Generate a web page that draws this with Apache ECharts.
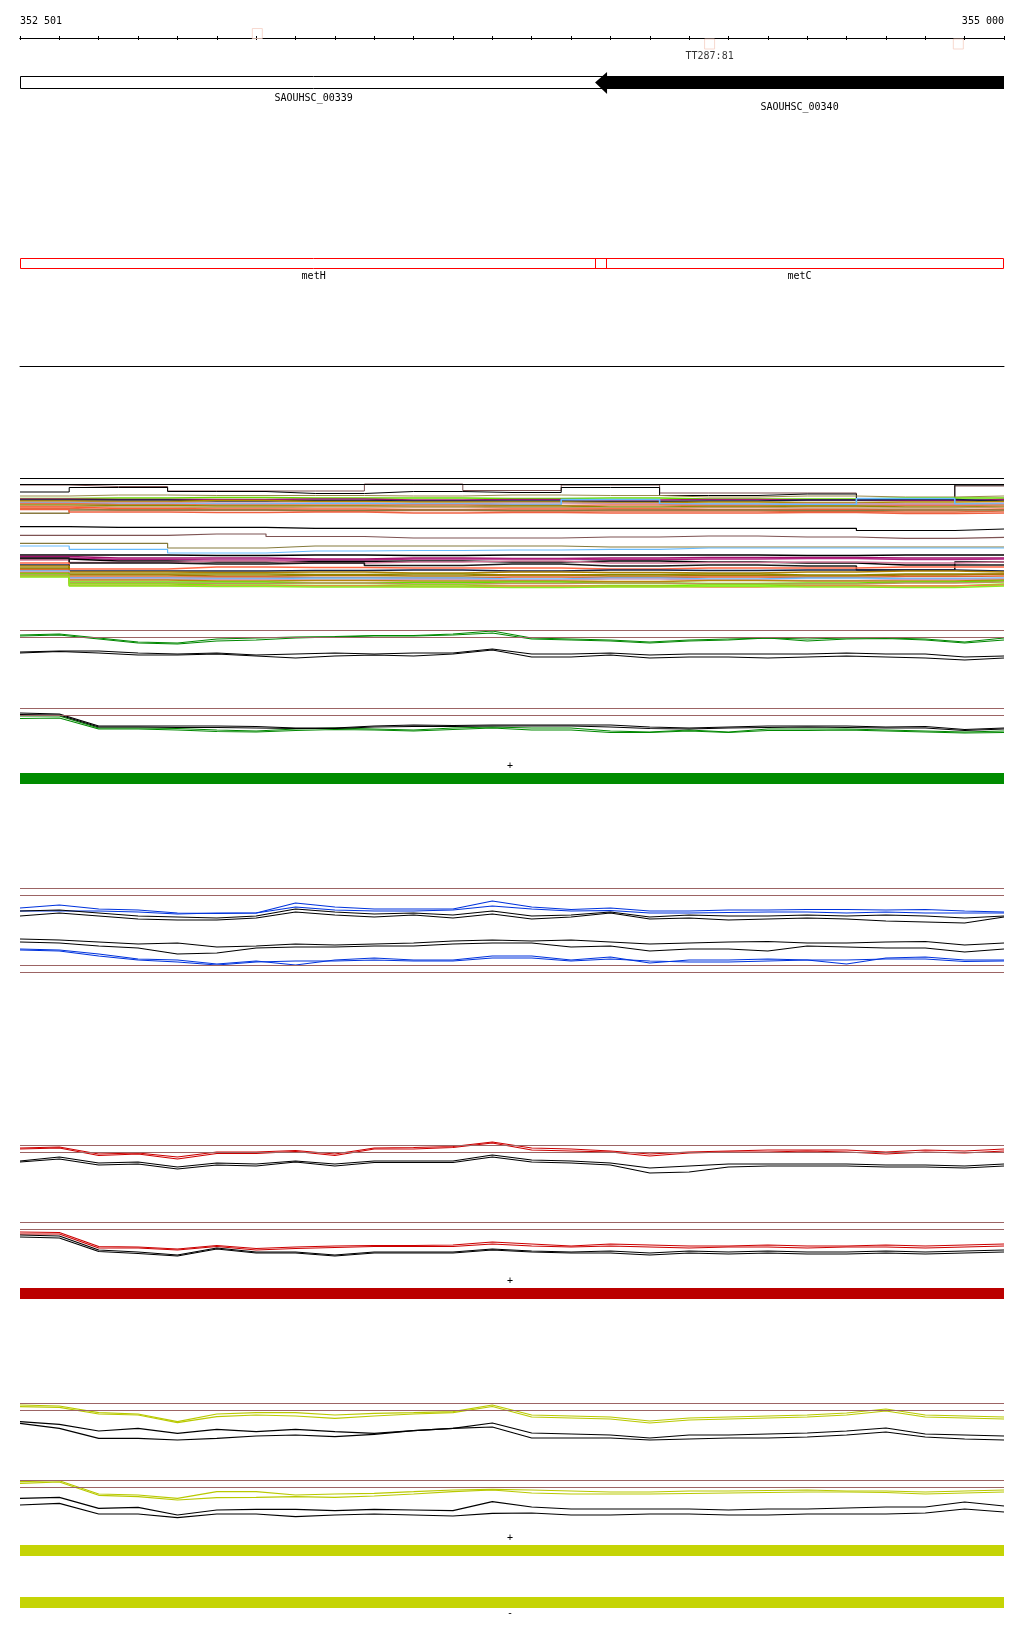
<!DOCTYPE html>
<html><head><meta charset="utf-8">
<script src="https://cdn.jsdelivr.net/npm/echarts@6/dist/echarts.min.js"></script>
<style>html,body{margin:0;padding:0;background:#fff}#c{width:1024px;height:1640px}</style>
</head><body><div id="c"></div>
<script>
// ---------- data ----------
const X_MIN = 352500, X_MAX = 355000;
const rulerLabels = ['352 501', '355 000'];
const xs = [352500,352600,352700,352800,352900,353000,353100,353200,353300,353400,353500,353600,353700,
            353800,353900,354000,354100,354200,354300,354400,354500,354600,354700,354800,354900,355000];
const xsDense = [352500,352750,353000,353250,353500,353750,354000,354250,354500,354750,355000];

const termPos = [353103, 354252, 354884];
const termStrand = ['+', '-', '-'];
const termLabels = ['', 'TT287:81', ''];

const geneNames = ['SAOUHSC_00339', 'SAOUHSC_00340'];
const geneStarts = [352500, 353961];
const geneEnds = [353992, 355000];
const geneStrand = [1, -1];

const regionNames = ['metH', 'metC'];
const regionStarts = [352500, 353961];
const regionEnds = [353992, 355000];

// dense panel (11 points)
const dW1 = [15,16.5,21,21,14,20.5,15,23,23,34,16];
const dW2 = [22,17.5,21.5,23.5,21.5,22.5,17.5,25.5,24,30,15];
const dW3 = [26,25,25.5,25.5,26,25,25.5,27,26,27,26];
const dU01 = [28.5,28,27.5,28,28,28.5,28,29,29,28,28];
const dU02 = [30,30,31,30.5,31,31,31.5,31,30,29.5,31];
const dU03 = [29,29.5,29.5,29,30,29.5,30,29.5,30,30.5,29.5];
const dU04 = [31,31.5,30.5,31.5,32,32,32.5,32,32.5,32,31.5];
const dU05 = [32.5,32.5,33,33,33.5,33,33.5,34,33.5,34,33];
const dU06 = [33,34,34,33.5,34,34.5,29.5,34,34.5,28.5,34];
const dU07 = [33.5,34.5,35,35,35,35.5,35,35.5,36,35.5,35];
const dU08 = [35,35.5,36,36,36.5,36,37,36.5,36,37,36.5];
const dU09 = [36,37,37.5,37,37,37.5,38,37.5,38,38,37];
const dU10 = [37,38.5,39,39,39.5,39,39,39.5,39.5,40,39];
const dU11 = [38.5,40,40,41,40.5,41,41,41,41.5,42,41];
const dU12 = [43.3,40,40,40.5,40,40.5,40,40,40.5,40,40];
const dU13 = [39.5,42,42.5,42,43,42.5,43,43,42.5,43.5,43];
const dM1 = [56.7,57.3,57.3,58.3,58.3,58.3,58.3,58.3,58.3,60.5,59];
const dM2 = [65.3,65.3,64,66.5,68,68,67,66,67,68.3,67.3];
const dM3 = [73.3,73.3,78,76,76,76,77,77,77,77,77];
const dM4 = [76,79.3,83,81,80.5,80,79.3,78,78,78,78];
const dL01 = [85,85,85.5,85,85.5,85,85,85,85.5,85,85];
const dL02 = [86.5,88,88,89,88,88.5,88,87.5,87.5,88,88];
const dL03 = [88,89.5,90,90,89,89,89.5,89,88.5,89.5,89];
const dL04 = [89,91,92,91.5,91,92,91,92,93,95,92];
const dL05 = [90,92.5,91,93,92,91,93,92.5,92,93,92];
const dL06 = [88,93,94,93,95.5,94,96,95,96,100,95];
const dL07 = [93,99,97,97.5,98,98,99,98,98,97,97];
const dL08 = [95,101,101,100.5,100,101,100,100.5,100,100,101];
const dL09 = [96,102,102.5,102,103,102,102.5,103,102,101,102];
const dL10 = [98,104,104,104.5,104,105,104.5,104,105,104,104];
const dL11 = [99,105,106,105.5,106,105,106,105.5,106,105,104];
const dL12 = [100,107,107,107.5,108,107,107.5,107,107.5,106.5,106];
const dL13 = [101,108,108.5,108,108,109,108,109,108,108.5,108];
const dL14 = [102,109,109.5,110,109.5,110,109,110,110.5,109.5,109];
const dL15 = [103,110,111,110.5,111,111,111.5,110.5,111,111,110];
const dL16 = [104,112,112,113,112.5,112,113,113.5,113,112,111];
const dL17 = [105,113,113.5,113,114,113.5,113,114,114,113,112];
const dL18 = [106,114,115,115.5,115,116,115.5,115,115.5,116,114];
const dL19 = [106.5,115.5,116,116,116.5,116,116.5,117,116,116,115];
const dL20 = [107,116,116.5,117,117,117.5,117,116.5,117,117.5,116];
const denseRefs = [8.3, 14.3];

// green panel
const gRef = [10.3, 17.3, 88.3, 95.7];
const gTopGreenA = [15,14,18,22,23,19,18,17,16.5,15.5,15.5,14,11,18,19,20,22,20,19,18,19,18,18,19,22,18];
const gTopGreenB = [16,15,19,23,24,21,20,18,17,16,16,15,13,19,20,21,23,21,20,18,21,19,18.5,20,23,20];
const gTopBlackA = [32,31,31,33,34,33,35,34,33,34,33,33,29,34,34,33,35,34,34,34,34,33,34,34,37,36];
const gTopBlackB = [33,31.5,33,35,35,34,36,38,36,35,36,34,30,37,37,35,38,37,37,38,37,36,37,38,40,38];
const gLowBlackA = [93,94,106,106,106,106,106.5,108,108,106,105,105.5,105,105,105,105,107,108,107,106,106,106,107,106.5,109.5,108];
const gLowBlackB = [94.5,95,107,107,107.5,107.5,108,108.5,108.5,107,106.5,106.5,106,106,106,107,108.5,109,108,107.5,107,107.5,108,108,110.5,109];
const gLowGreenA = [96,96,108,108,108.5,110,111,109,108,109,110,108,107,108,108,111,112,110,112,109,109,109,110,111,112,111];
const gLowGreenB = [98.5,98,109,109,110,111.5,112,110.5,109.5,110,111,109.5,108,110,110,112.5,112.5,111,112.5,110.5,110.5,110,111,112,113,112.5];

// blue panel
const bRef = [8.3, 15.3, 85.3, 92.3];
const bTopBlueA = [28,25,29,30,33,33.5,33,23,27,29,29,29,21,27,29.5,28,31,31,30,30,29.5,29.5,30,29.5,31,32];
const bTopBlueB = [31,31,31,32,34,33,33,27,30,31,31,30,26,29,31,30.5,33,33,32.5,32,32,33,32,33,33,33];
const bTopBlackA = [31,30,33,36,37,38,36,29,32,34,33,35,31,36,35,32,37,35,36,36,35,36,35,36,38,36];
const bTopBlackB = [36,33,36,39,40,40,38,32,35,37,35,38,34,39,37,33,39,38,40,39,38,39,41,42,43,37];
const bLowBlackA = [59,60,62,64,63,67,66,64,65,64,63,61,60,61,60,62,64,63,62,61.5,63,63,62,61.5,65,63];
const bLowBlackB = [62,63,66,68,74,73,68,67,67,66,66,64,63,63,67,66,71,69,69,71,66,67,68,68,72,69];
const bLowBlueA = [69,70,74,79,80,84,81,85,80,78,80,80,76,76,80,77,83,80,80,79,80,84,78,77,80,80];
const bLowBlueB = [70,71,76,80,82,85,82,81,81,80,81,81,78,78,81,79,81,82,82,81,80,80,79,79,81.5,81];

// red panel
const rRef = [15.3, 22.3, 92.3, 99.3];
const rTopRedA = [18,17,24,23,27,22,22,20.5,24,18,17.5,16.5,12,18,19,21,24,22,21,20,20,20,22,20,21,19];
const rTopRedB = [19,18,25.5,24,29,23.5,23.5,21.5,25.5,19,19,17.5,13,20,21,22,26,23,22,22,21,22,24,22,23,21];
const rTopBlackA = [31,27,33,32,37,33,34,31,34,31,31,31,25,30,31,33,38,36,34,34,34,34,35,35,36,34];
const rTopBlackB = [32,29,35,34,39,35,36,32,36,32.5,32.5,32.5,27,32,33,35,43,42,37,36,36,36,37,37,38,36];
const rLowRedA = [102,102.5,116.5,117,119,115.5,118.5,117,116,115.5,115.5,115,112,114,116,114,115,116,116,115,116,116,115,116,115,114];
const rLowRedB = [104,104,118,118,120,116.5,120,118.5,117.5,116.5,116.5,116.5,114,116,117,116,117,118,117,117,118,117,117,118,117,116];
const rLowBlackA = [105,106,120,122,125,118,122,122,125,122,122,122,119,121,122,121,123,121,122,121,122,122,121,122,121,120];
const rLowBlackB = [107,108,121.5,123.5,126,119,123,123,126,123,123,123,120,122,123,123,125,123,124,123,124,124,123,124,123,122];

// yellow panel
const yRef = [13.3, 20.3, 90.3, 97.3];
const yTopYellowA = [15,16,22.7,24,31.7,24,22.7,22.7,25,23.3,22.7,21.7,15,25,26,27,31,28,27,26,25,23,19,25,26,27];
const yTopYellowB = [16.7,17.3,24,25,32.7,26.7,25,26,28.3,26,24,22.7,16.5,27,28,29,33,30,29,28,27,25,21,27,28,29];
const yTopBlackA = [31.7,34.3,41,38.3,43.3,39.3,41.7,39.3,41.7,43.3,40.7,38.3,33,43,44,45,48,45,45,44,43,41,38,44,45,46];
const yTopBlackB = [33.3,38.3,48.3,48.3,50,48.3,46,45,46.7,44.3,40.7,38.3,37,48,48,48,50,49,48,48,47,45,42,47,49,50];
const yLowYellowA = [91.7,90.7,104,105,108.3,101.7,101.7,105,104,103.3,101.7,100,99.3,100,101,102,102,101,101,100.5,100,101,101,102,101,100];
const yLowYellowB = [93.3,92,105.3,106.7,110,107.7,107.3,106.7,107.3,106,104,101.7,100,103,104,104,104,103.5,103,102.5,102,102,102.5,104,103,102];
const yLowBlackA = [108.3,107.3,118.3,117.3,125,120,119.3,119.3,120.7,119.3,120,120.7,111.7,117,119,119,119,119,120,119,119,118,117,117,112,116];
const yLowBlackB = [115,113.3,124,124,127.7,124,124,126.7,125,124,125,126,123.3,123,125,125,124,124,125,125,124,124,124,123,119,122];

// strand tracks
const strandStart = X_MIN, strandEnd = X_MAX;

// ---------- styles / layout ----------
const FONT = '10px "DejaVu Sans Mono"';
const BROWN = '#9c6464';
const GREEN = '#008800', BLUE = '#0033dd', RED = '#cc0000', YEL = '#b9c900';
const BAR_GREEN = '#008c00', BAR_RED = '#bb0000', BAR_YEL = '#c5d405';
const PW = 1.2;

const gridDefs = [
  {top:28, height:20},    //0 ruler
  {top:76, height:13},    //1 genes
  {top:258, height:11},   //2 regions
  {top:300, height:66},   //3 separator
  {top:470, height:125},  //4 dense
  {top:620, height:125},  //5 green
  {top:773, height:11},   //6 green strand
  {top:880, height:100},  //7 blue
  {top:1130, height:135}, //8 red
  {top:1288, height:11},  //9 red strand
  {top:1390, height:135}, //10 yellow
  {top:1545, height:11},  //11 yellow + strand
  {top:1597, height:11},  //12 yellow - strand
  {top:28, height:20}     //13 ruler (upward ticks)
];
const grids = gridDefs.map(g => Object.assign({left:20, width:984, show:false, containLabel:false, outerBoundsMode:'none'}, g));
const yRanges = [[-1,1],[0,1],[0,1],[0,1],[0,125,true],[0,125,true],[0,1],[0,100,true],[0,135,true],[0,1],[0,135,true],[0,1],[0,1],[-1,1]];
const yAxes = yRanges.map((r,i) => ({gridIndex:i, type:'value', min:r[0], max:r[1], inverse:!!r[2], show:false}));
const xAxes = gridDefs.map((g,i) => ({gridIndex:i, type:'value', min:X_MIN, max:X_MAX, show:false}));
const rulerAxis = (gi, inside) => ({gridIndex:gi, type:'value', position:'bottom', min:X_MIN, max:X_MAX, interval:100, show:true,
  axisLine:{show:true, onZero:true, lineStyle:{color:'#000', width:1}},
  axisTick:{show:true, inside:inside, length:2, lineStyle:{color:'#000', width:1}},
  axisLabel:{show:false}, splitLine:{show:false}});
xAxes[0] = rulerAxis(0, false);
xAxes[13] = rulerAxis(13, true);
xAxes.push({gridIndex:0, type:'value', position:'top', min:X_MIN, max:X_MAX, interval:X_MAX-X_MIN, show:true,
  axisLine:{show:false, onZero:false}, axisTick:{show:false}, splitLine:{show:false},
  axisLabel:{show:true, margin:2, showMinLabel:true, showMaxLabel:true, alignMinLabel:'left', alignMaxLabel:'right',
    fontFamily:'DejaVu Sans Mono', fontSize:10, color:'#000',
    formatter: v => v === X_MIN ? rulerLabels[0] : (v === X_MAX ? rulerLabels[1] : '')}}); // 14
xAxes[3] = {gridIndex:3, type:'value', min:X_MIN, max:X_MAX, show:true,
  axisLine:{show:true, onZero:false, lineStyle:{color:'#000', width:1}}, axisTick:{show:false}, axisLabel:{show:false}, splitLine:{show:false}};

function ls(gi, xArr, yArr, color, width, extra) {
  return Object.assign({type:'line', xAxisIndex:gi, yAxisIndex:gi, data:xArr.map((x,i)=>[x, yArr[i]]),
    showSymbol:false, symbol:'none', lineStyle:{color:color, width:width||PW}, itemStyle:{color:color},
    silent:true, animation:false}, extra||{});
}
function refLines(vals, color) {
  return {silent:true, symbol:['none','none'], label:{show:false}, animation:false,
    lineStyle:{color:color, width:1, type:'solid'}, data:vals.map(v=>({yAxis:v}))};
}

// custom renderers
function renderGene(params, api) {
  const a = api.coord([api.value(0), 1]), b = api.coord([api.value(1), 0]);
  const i = params.dataIndex, children = [];
  const x0 = Math.round(a[0]) + 0.5, x1 = Math.round(b[0]) - 0.5, y0 = Math.round(a[1]) + 0.5, y1 = Math.round(b[1]) - 0.5;
  if (api.value(2) > 0) {
    children.push({type:'rect', shape:{x:x0, y:y0, width:x1-x0, height:y1-y0}, style:{fill:'#fff', stroke:'#000', lineWidth:1}});
  } else {
    const h = 12, ym = (a[1]+b[1])/2;
    children.push({type:'polygon', shape:{points:[[a[0], ym],[a[0]+h, a[1]-4],[a[0]+h, a[1]],[b[0], a[1]],[b[0], b[1]],[a[0]+h, b[1]],[a[0]+h, b[1]+5]]},
      style:{fill:'#000'}});
  }
  children.push({type:'text', style:{text:geneNames[i], x:(a[0]+b[0])/2, y:b[1]+9+9*i, align:'center', verticalAlign:'middle', font:FONT, fill:'#000'}});
  return {type:'group', children};
}
function renderRegion(params, api) {
  const a = api.coord([api.value(0), 1]), b = api.coord([api.value(1), 0]);
  const x0 = Math.round(a[0]) + 0.5, x1 = Math.round(b[0]) - 0.5, y0 = Math.round(a[1]) + 0.5, y1 = Math.round(b[1]) - 0.5;
  return {type:'group', children:[
    {type:'rect', shape:{x:x0, y:y0, width:x1-x0, height:y1-y0}, style:{fill:null, stroke:'#ff0000', lineWidth:1}},
    {type:'text', style:{text:regionNames[params.dataIndex], x:(a[0]+b[0])/2, y:b[1]+7, align:'center', verticalAlign:'middle', font:FONT, fill:'#000'}}
  ]};
}
function renderStrand(params, api) {
  const a = api.coord([api.value(0), 1]), b = api.coord([api.value(1), 0]);
  const plus = api.value(2) > 0, mx = (a[0]+b[0])/2 - 2;
  return {type:'group', children:[
    {type:'rect', shape:{x:a[0], y:a[1], width:b[0]-a[0], height:b[1]-a[1]}, style:{fill:api.visual('color')}},
    {type:'text', style:{text: plus ? '+' : '-', x:mx, y: plus ? a[1]-7 : b[1]+5, align:'center', verticalAlign:'middle', font:FONT, fill:'#000'}}
  ]};
}
function strandSeries(gi, sign, color) {
  return {type:'custom', xAxisIndex:gi, yAxisIndex:gi, renderItem:renderStrand, clip:false, silent:true, animation:false,
    itemStyle:{color:color}, encode:{x:[0,1]}, data:[[strandStart, strandEnd, sign]]};
}

const series = [];
// terminators
series.push({type:'scatter', xAxisIndex:0, yAxisIndex:0, symbol:'rect', symbolSize:10, silent:true, animation:false, z:1,
  itemStyle:{color:'rgba(255,255,255,0)', borderColor:'#f5cfc4', borderWidth:1},
  data: termPos.map((x,i)=>({value:[x, termStrand[i]==='+' ? 0.45 : -0.6],
    label:{show: termLabels[i] !== '', formatter: termLabels[i], position:'bottom', distance:2, color:'#000', fontFamily:'DejaVu Sans Mono', fontSize:10}}))});
// genes
series.push({type:'custom', xAxisIndex:1, yAxisIndex:1, renderItem:renderGene, clip:false, silent:true, animation:false, encode:{x:[0,1]},
  data: geneNames.map((n,i)=>[geneStarts[i], geneEnds[i], geneStrand[i]])});
// regions
series.push({type:'custom', xAxisIndex:2, yAxisIndex:2, renderItem:renderRegion, clip:false, silent:true, animation:false, encode:{x:[0,1]},
  data: regionNames.map((n,i)=>[regionStarts[i], regionEnds[i]])});

// dense panel
const DS = {step:'middle'};
series.push(ls(4, xsDense, dW1, '#7d5252', 1, Object.assign({markLine:refLines(denseRefs, '#000')}, DS)));
series.push(ls(4, xsDense, dW2, '#000', 1, DS));
series.push(ls(4, xsDense, dW3, '#9b8a4a', 1, DS));
const upper = [[dU01,'#66dd00'],[dU03,'#a3186f'],[dU02,'#141c48'],[dU04,'#b08a00'],[dU05,'#c896b4'],[dU06,'#66bbff'],[dU07,'#e8734f'],
  [dU08,'#8c8a00'],[dU09,'#c39a6b'],[dU10,'#ff5a36'],[dU11,'#e06a40'],[dU12,'#8a7a40'],[dU13,'#f06040']];
upper.forEach(u => series.push(ls(4, xsDense, u[0], u[1], 1.6, DS)));
series.push(ls(4, xsDense, dM1, '#000', 1.2, DS));
series.push(ls(4, xsDense, dM2, '#7d5252', 1.2, DS));
series.push(ls(4, xsDense, dM3, '#857a3c', 1.2, DS));
series.push(ls(4, xsDense, dM4, '#66bbff', 1.2, DS));
const lower = [[dL01,'#000'],[dL02,'#a0106c'],[dL03,'#b02080'],[dL04,'#000'],[dL05,'#d07898'],[dL06,'#1a1a1a'],[dL07,'#ff6644'],
  [dL08,'#14204a'],[dL09,'#b08000'],[dL10,'#888800'],[dL11,'#a87400'],[dL12,'#e06030'],[dL13,'#66bbff'],[dL14,'#c8a0c8'],
  [dL15,'#b8860b'],[dL16,'#66dd00'],[dL17,'#c09060'],[dL18,'#77ee00'],[dL19,'#ff7755'],[dL20,'#88ee22']];
lower.forEach(u => series.push(ls(4, xsDense, u[0], u[1], 1.6, DS)));

// green panel
series.push(ls(5, xs, gTopGreenA, GREEN, PW, {markLine:refLines(gRef, BROWN)}));
series.push(ls(5, xs, gTopGreenB, GREEN));
series.push(ls(5, xs, gTopBlackA, '#000'));
series.push(ls(5, xs, gTopBlackB, '#000'));
series.push(ls(5, xs, gLowGreenA, GREEN));
series.push(ls(5, xs, gLowGreenB, GREEN));
series.push(ls(5, xs, gLowBlackA, '#000'));
series.push(ls(5, xs, gLowBlackB, '#000'));
series.push(strandSeries(6, 1, BAR_GREEN));

// blue panel
series.push(ls(7, xs, bTopBlueA, BLUE, PW, {markLine:refLines(bRef, BROWN)}));
series.push(ls(7, xs, bTopBlueB, BLUE));
series.push(ls(7, xs, bTopBlackA, '#000'));
series.push(ls(7, xs, bTopBlackB, '#000'));
series.push(ls(7, xs, bLowBlackA, '#000'));
series.push(ls(7, xs, bLowBlackB, '#000'));
series.push(ls(7, xs, bLowBlueA, BLUE));
series.push(ls(7, xs, bLowBlueB, BLUE));

// red panel
series.push(ls(8, xs, rTopRedA, RED, PW, {markLine:refLines(rRef, BROWN)}));
series.push(ls(8, xs, rTopRedB, RED));
series.push(ls(8, xs, rTopBlackA, '#000'));
series.push(ls(8, xs, rTopBlackB, '#000'));
series.push(ls(8, xs, rLowRedA, RED));
series.push(ls(8, xs, rLowRedB, RED));
series.push(ls(8, xs, rLowBlackA, '#000'));
series.push(ls(8, xs, rLowBlackB, '#000'));
series.push(strandSeries(9, 1, BAR_RED));

// yellow panel
series.push(ls(10, xs, yTopYellowA, YEL, PW, {markLine:refLines(yRef, BROWN)}));
series.push(ls(10, xs, yTopYellowB, YEL));
series.push(ls(10, xs, yTopBlackA, '#000'));
series.push(ls(10, xs, yTopBlackB, '#000'));
series.push(ls(10, xs, yLowYellowA, YEL));
series.push(ls(10, xs, yLowYellowB, YEL));
series.push(ls(10, xs, yLowBlackA, '#000'));
series.push(ls(10, xs, yLowBlackB, '#000'));
series.push(strandSeries(11, 1, BAR_YEL));
series.push(strandSeries(12, -1, BAR_YEL));

const chart = echarts.init(document.getElementById('c'), null, {renderer:'canvas', width:1024, height:1640});
chart.setOption({
  animation:false,
  backgroundColor:'#ffffff',
  grid:grids, xAxis:xAxes, yAxis:yAxes, series:series
});
</script>
</body></html>
